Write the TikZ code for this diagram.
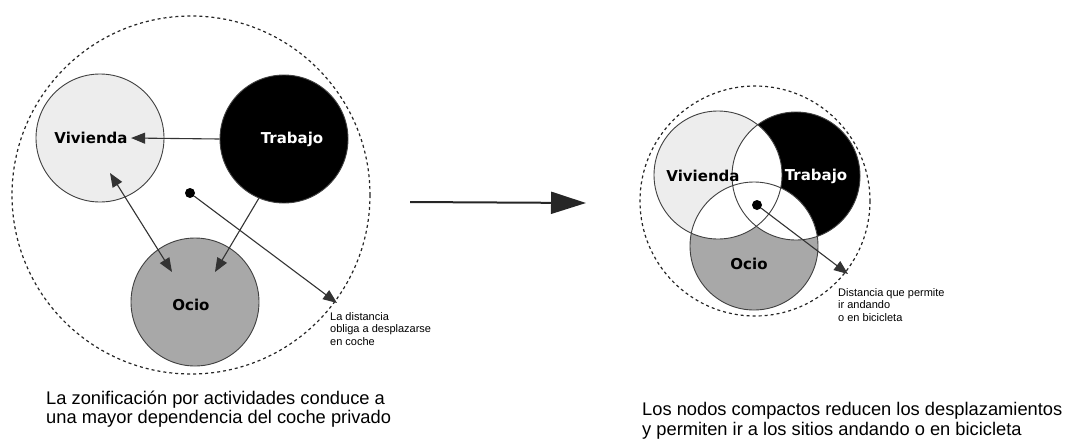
\documentclass[tikz,border=0pt]{standalone}
\usepackage{fontspec}
\setmainfont{Liberation Sans}
\newfontfamily\rotfont{DejaVu Sans}
\usetikzlibrary{arrows.meta}

\begin{document}
\begin{tikzpicture}[x=1pt,y=-1pt,
    nodo/.style={circle, draw=black!75, line width=0.9pt, inner sep=0pt,
      minimum size=128pt},
    limite/.style={draw=black!85, line width=1.2pt, dash pattern=on 3pt off 3pt},
    flecha/.style={draw=black!80, line width=1.1pt,
      -{Triangle[length=14pt,width=11pt]}},
    rotulo/.style={font=\rotfont\bfseries\fontsize{15}{18}\selectfont},
    nota/.style={font=\fontsize{11}{12.5}\selectfont, align=left,
      anchor=north west, inner sep=0pt},
    pie/.style={font=\fontsize{18.3}{19.5}\selectfont, align=left,
      anchor=west, inner sep=0pt}]

  \useasboundingbox (0,0) rectangle (1086,445);

  % Left: activities zoned far apart.
  \draw[limite] (191,195) circle [radius=179];

  \node[nodo, fill=black!7] (viv) at (100,138) {};
  \node[nodo, fill=black] (tra) at (284,139) {};
  \node[nodo, fill=black!34] (oci) at (195,302) {};

  \node[rotulo] (vivtxt) at (91,138) {Vivienda};
  \node[rotulo, white] (tratxt) at (292,139) {Trabajo};
  \node[rotulo] (ocitxt) at (191,305) {Ocio};

  % The centre point and the distance to the edge.
  \node[circle, fill=black, inner sep=0pt, minimum size=10pt] (punto) at (190,193) {};
  \coordinate (lejos) at (337,303);
  \node[nota] (distA) at (330,312) {La distancia\\obliga a desplazarse\\en coche};

  \coordinate (vivA) at (110,173);
  \coordinate (ociA) at (172,272);
  \coordinate (ociB) at (215,272);

  \draw[flecha] (tra.west) -- (vivtxt.east);
  \draw[flecha, {Triangle[length=14pt,width=11pt]}-{Triangle[length=14pt,width=11pt]}]
    (vivA) -- (ociA);
  \draw[flecha] (tra.247) -- (ociB);
  \draw[flecha] (punto) -- (lejos);

  % The big arrow between both schemes.
  \coordinate (ini) at (410,202);
  \coordinate (fin) at (586,203);
  \draw[black!85, line width=2pt, -{Triangle[length=35pt,width=22pt]}] (ini) -- (fin);

  % Right: compact nodes, the overlaps left white.
  \draw[limite] (755,201) circle [radius=115];

  \fill[black!7] (718,175) circle [radius=64];
  \fill[black] (796,176) circle [radius=64];
  \fill[black!34] (754,246) circle [radius=64];
  \begin{scope}
    \clip (718,175) circle [radius=64];
    \fill[white] (796,176) circle [radius=64];
    \fill[white] (754,246) circle [radius=64];
  \end{scope}
  \begin{scope}
    \clip (796,176) circle [radius=64];
    \fill[white] (754,246) circle [radius=64];
  \end{scope}

  \node[nodo] (viv2) at (718,175) {};
  \node[nodo] (tra2) at (796,176) {};
  \node[nodo] (oci2) at (754,246) {};

  \node[rotulo] (vivtxt2) at (703,176) {Vivienda};
  \node[rotulo, white] (tratxt2) at (816,176) {Trabajo};
  \node[rotulo] (ocitxt2) at (749,264) {Ocio};

  \node[circle, fill=black, inner sep=0pt, minimum size=10pt] (punto2) at (757,205) {};
  \coordinate (cerca) at (848,274);
  \node[nota] (distB) at (838,288) {Distancia que permite\\ir andando\\o en bicicleta};
  \draw[flecha] (punto2) -- (cerca);

  % Captions.
  \node[pie] (pieA) at (46,409) {La zonificación por actividades conduce a\\una mayor dependencia del coche privado};
  \node[pie] (pieB) at (642,421) {Los nodos compactos reducen los desplazamientos\\y permiten ir a los sitios andando o en bicicleta};
\end{tikzpicture}
\end{document}
